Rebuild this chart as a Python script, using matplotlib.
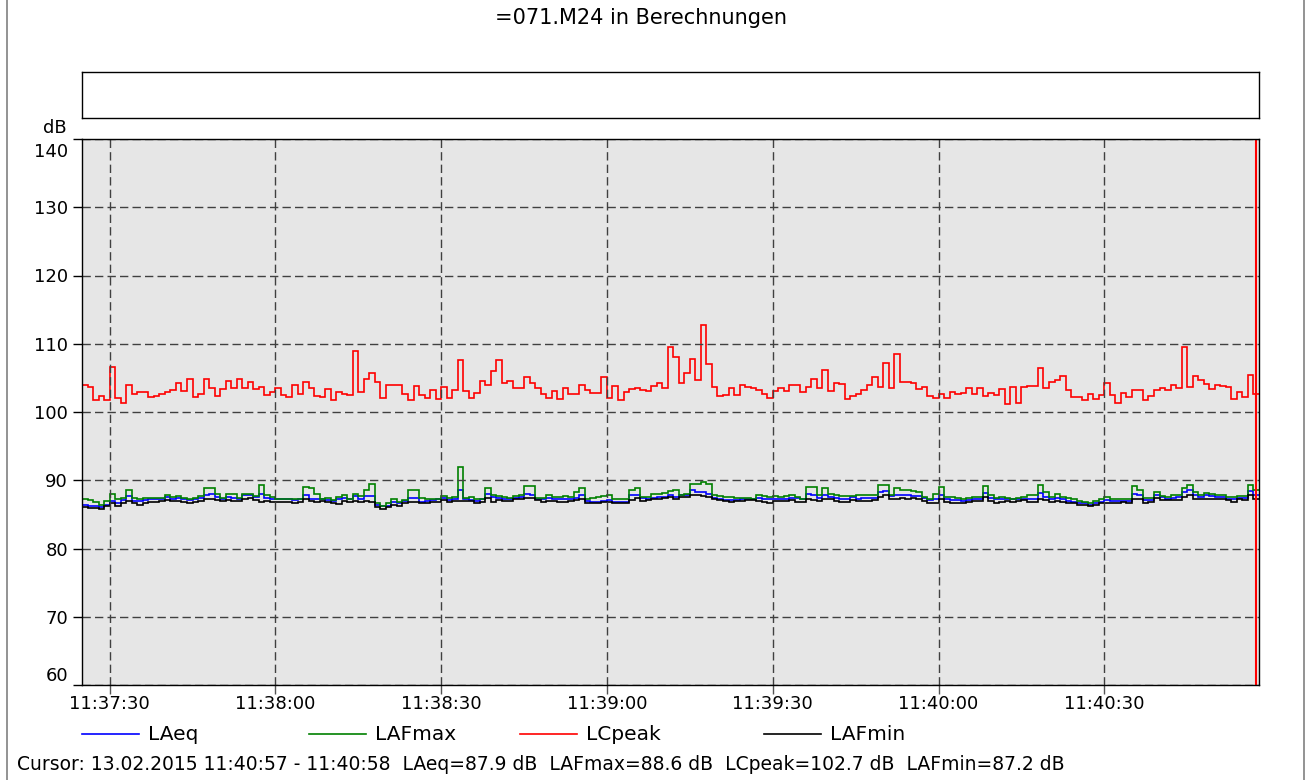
import numpy as np
import matplotlib
matplotlib.use('Agg')
import matplotlib.pyplot as plt
from matplotlib.lines import Line2D
from matplotlib.transforms import ScaledTranslation

plt.rcParams['font.family'] = ['DejaVu Sans']

title = '=071.M24 in Berechnungen'
date_str = '13.02.2015'
start_time = '11:37:25'          # first one-second interval
cursor_from = '11:40:57'
cursor_to = '11:40:58'
tick_labels = ['11:37:30', '11:38:00', '11:38:30', '11:39:00',
               '11:39:30', '11:40:00', '11:40:30']
y_ticks = [60, 70, 80, 90, 100, 110, 120, 130, 140]

# one value per second, 11:37:25 ... 11:40:57
LCpeak = [
    103.9, 103.6, 101.7, 102.3, 101.7, 106.6, 102.0, 101.3, 103.9, 102.7,
    103.0, 103.0, 102.2, 102.4, 102.7, 103.0, 103.2, 104.3, 103.1, 104.9,
    102.2, 102.7, 104.9, 103.5, 102.4, 103.4, 104.5, 103.5, 104.8, 103.5,
    104.4, 103.4, 103.7, 102.5, 102.9, 103.5, 102.5, 102.2, 104.0, 102.6,
    104.4, 103.5, 102.4,
    102.2, 103.4, 101.7, 102.9, 102.7, 102.5, 108.9, 103.0, 104.8, 105.7,
    104.4, 102.1, 103.9, 103.9, 104.0, 102.7, 101.7, 103.8, 102.5, 102.0,
    103.2, 101.9, 103.6, 102.0, 103.2, 107.6, 103.1, 102.0, 102.8, 104.5,
    103.9, 106.0, 107.6, 104.2, 104.6, 103.5, 103.5, 105.1, 104.3, 103.5,
    102.6, 102.0, 103.1,
    101.9, 103.5, 102.7, 102.7, 103.9, 103.2, 102.8, 102.8, 105.1, 102.0,
    103.8, 101.7, 102.9, 103.4, 103.5, 103.2, 103.1, 103.8, 104.2, 103.5,
    109.5, 108.1, 104.3, 105.7, 107.7, 104.7, 112.8, 107.1, 103.7, 102.4,
    102.5, 103.5, 102.5, 103.9, 103.7, 103.5, 103.2, 102.7, 102.1, 103.1,
    103.5, 103.1, 104.0,
    104.0, 103.0, 103.7, 104.9, 103.5, 106.2, 103.1, 104.2, 104.1, 101.9,
    102.3, 102.6, 103.2, 103.9, 105.2, 103.6, 107.2, 103.5, 108.5, 104.4,
    104.4, 104.3, 103.4, 103.6, 102.4, 102.1, 102.7, 102.1, 102.9, 102.6,
    102.8, 103.5, 102.6, 103.5, 102.3, 102.8, 102.5, 103.3, 101.1, 103.6,
    101.3, 103.6,
    103.8, 103.8, 106.5, 103.5, 104.4, 104.7, 105.3, 103.2, 102.2, 102.2,
    101.7, 102.7, 101.9, 102.5, 104.3, 102.5, 101.3, 102.8, 102.2, 103.2,
    103.2, 101.7, 102.4, 103.2, 103.5, 103.2, 104.0, 103.5, 109.5, 103.7,
    105.3, 104.7, 104.1, 103.4, 103.9, 103.8, 103.6, 101.9, 103.0, 102.2,
    105.4, 102.7,
]

LAFmax = [
    87.2, 87.1, 86.8, 86.4, 86.9, 88.0, 87.2, 87.4, 88.6, 87.4,
    87.3, 87.4, 87.4, 87.4, 87.4, 87.8, 87.5, 87.7, 87.4, 87.2,
    87.4, 87.7, 88.8, 88.8, 88.0, 87.4, 88.0, 88.0, 87.4, 88.0,
    88.0, 87.7, 89.3, 87.9, 87.6, 87.3, 87.3, 87.3, 87.3, 87.3,
    89.0, 88.9, 88.0,
    87.3, 87.4, 87.1, 87.6, 87.8, 87.3, 88.0, 87.7, 88.6, 89.4,
    86.6, 86.3, 86.6, 87.2, 86.8, 87.1, 88.6, 88.6, 87.4, 87.3,
    87.3, 87.3, 87.7, 87.4, 87.6, 91.9, 87.4, 87.6, 87.2, 87.3,
    88.8, 87.9, 87.7, 87.6, 87.4, 87.7, 87.9, 89.2, 89.2, 87.4,
    87.4, 87.8, 87.6,
    87.6, 87.7, 87.6, 88.3, 88.9, 87.3, 87.4, 87.6, 87.7, 87.8,
    87.3, 87.2, 87.2, 88.6, 88.8, 87.6, 87.6, 88.0, 88.0, 88.2,
    88.4, 88.6, 87.9, 88.0, 89.5, 89.5, 89.8, 89.4, 87.8, 87.7,
    87.6, 87.5, 87.4, 87.4, 87.4, 87.3, 87.9, 87.7, 87.6, 87.7,
    87.6, 87.7, 87.8,
    87.6, 87.3, 89.0, 89.0, 87.8, 88.8, 88.0, 87.9, 87.7, 87.7,
    87.7, 87.8, 87.8, 87.8, 87.8, 89.3, 89.3, 87.8, 88.9, 88.6,
    88.5, 88.4, 88.3, 87.6, 87.3, 88.0, 89.0, 87.5, 87.6, 87.4,
    87.3, 87.4, 87.6, 87.5, 89.2, 87.8, 87.4, 87.6, 87.4, 87.3,
    87.4, 87.6,
    87.8, 87.8, 89.3, 88.3, 87.6, 88.0, 87.6, 87.4, 87.2, 87.0,
    86.8, 86.7, 86.9, 87.3, 87.6, 87.3, 87.3, 87.3, 87.2, 89.2,
    88.6, 87.4, 87.4, 88.3, 87.7, 87.6, 87.8, 87.8, 88.8, 89.3,
    88.3, 87.8, 88.2, 88.0, 87.9, 87.8, 87.6, 87.6, 87.7, 87.7,
    89.3, 88.6,
]

LAeq = [
    86.4, 86.3, 86.3, 86.1, 86.4, 86.9, 86.7, 87.1, 87.7, 86.9,
    86.9, 87.1, 87.2, 87.2, 87.3, 87.6, 87.3, 87.4, 87.2, 87.1,
    87.2, 87.4, 87.8, 88.0, 87.6, 87.3, 87.6, 87.4, 87.3, 87.8,
    87.8, 87.6, 88.0, 87.4, 87.3, 87.2, 87.2, 87.2, 87.1, 87.2,
    87.9, 87.3, 87.2,
    87.2, 87.1, 86.9, 87.2, 87.4, 87.2, 87.7, 87.3, 87.7, 87.7,
    86.4, 86.2, 86.3, 86.8, 86.7, 86.9, 87.4, 87.4, 86.8, 86.9,
    87.1, 87.2, 87.4, 87.1, 87.2, 88.6, 87.3, 87.1, 86.9, 87.2,
    88.0, 87.6, 87.4, 87.3, 87.3, 87.4, 87.6, 88.0, 87.9, 87.3,
    87.2, 87.4, 87.2,
    87.3, 87.2, 87.3, 87.4, 87.9, 86.9, 86.8, 86.8, 87.0, 87.1,
    86.8, 86.8, 86.8, 87.8, 87.8, 87.4, 87.3, 87.4, 87.6, 87.6,
    87.9, 87.6, 87.8, 87.9, 88.5, 88.3, 88.3, 88.0, 87.4, 87.3,
    87.1, 87.1, 87.1, 87.2, 87.3, 87.2, 87.4, 87.3, 87.2, 87.3,
    87.3, 87.2, 87.4,
    87.4, 87.2, 88.0, 87.9, 87.4, 87.8, 87.6, 87.4, 87.3, 87.3,
    87.5, 87.3, 87.4, 87.4, 87.4, 88.3, 88.4, 87.7, 87.8, 87.8,
    87.8, 87.7, 87.7, 87.4, 87.1, 87.3, 87.9, 87.3, 87.1, 87.1,
    87.0, 87.1, 87.2, 87.3, 88.2, 87.4, 87.2, 87.3, 87.3, 87.3,
    87.3, 87.3,
    87.3, 87.3, 88.1, 87.6, 87.2, 87.4, 87.2, 86.9, 86.8, 86.7,
    86.6, 86.4, 86.7, 86.8, 87.1, 87.0, 86.9, 86.9, 86.9, 88.0,
    87.8, 87.1, 87.1, 87.9, 87.5, 87.3, 87.4, 87.5, 88.3, 88.6,
    87.9, 87.6, 87.8, 87.7, 87.6, 87.5, 87.3, 87.2, 87.4, 87.4,
    88.4, 87.9,
]

LAFmin = [
    86.1, 86.0, 86.0, 85.8, 86.3, 86.6, 86.3, 86.7, 86.9, 86.7,
    86.4, 86.7, 86.8, 86.8, 86.9, 87.1, 86.9, 86.9, 86.8, 86.7,
    86.8, 86.9, 87.3, 87.3, 87.1, 86.9, 87.1, 86.9, 86.9, 87.3,
    87.4, 87.1, 86.8, 86.9, 86.8, 86.8, 86.8, 86.8, 86.7, 86.8,
    87.2, 86.9, 86.8,
    86.9, 86.8, 86.6, 86.5, 86.9, 86.8, 86.9, 86.8, 86.9, 86.8,
    86.1, 85.8, 86.1, 86.4, 86.3, 86.7, 86.8, 86.8, 86.6, 86.7,
    86.8, 86.8, 87.1, 86.8, 87.0, 86.9, 86.9, 86.9, 86.7, 86.8,
    87.4, 86.8, 87.1, 86.9, 86.9, 87.2, 87.2, 87.4, 87.4, 87.1,
    86.8, 86.9, 87.0,
    86.8, 86.8, 86.9, 87.1, 87.3, 86.7, 86.6, 86.6, 86.8, 86.8,
    86.6, 86.6, 86.7, 87.1, 87.4, 86.9, 87.1, 87.2, 87.3, 87.4,
    87.6, 87.3, 87.5, 87.6, 87.9, 87.8, 87.7, 87.6, 87.3, 87.1,
    86.9, 86.8, 86.9, 86.9, 87.1, 87.1, 86.9, 86.8, 86.7, 86.9,
    86.9, 87.0, 87.1,
    86.8, 86.8, 87.2, 87.1, 86.9, 87.2, 87.2, 86.9, 86.8, 86.8,
    87.1, 86.9, 86.9, 86.9, 87.1, 87.6, 87.8, 87.3, 87.3, 87.4,
    87.3, 87.4, 87.3, 86.9, 86.6, 86.6, 87.3, 86.8, 86.7, 86.7,
    86.7, 86.8, 86.9, 86.9, 87.6, 86.9, 86.6, 86.8, 86.9, 86.8,
    87.0, 87.1,
    86.8, 86.8, 87.2, 87.1, 86.8, 86.9, 86.8, 86.7, 86.6, 86.4,
    86.4, 86.2, 86.4, 86.6, 86.7, 86.6, 86.7, 86.8, 86.7, 87.3,
    87.3, 86.7, 86.8, 87.4, 87.1, 87.1, 87.1, 87.1, 87.6, 87.8,
    87.3, 87.2, 87.3, 87.3, 87.2, 87.2, 87.1, 86.8, 87.2, 87.1,
    87.8, 87.2,
]

series = [('LAeq', LAeq, '#0000ff'),
          ('LAFmax', LAFmax, '#008000'),
          ('LCpeak', LCpeak, '#ff0000'),
          ('LAFmin', LAFmin, '#000000')]


def secs(hms):
    h, m, s = [int(v) for v in hms.split(':')]
    return h * 3600 + m * 60 + s


t0 = secs(start_time)
n = len(LAeq)
edges = np.arange(n + 1)
tick_pos = [secs(lbl) - t0 for lbl in tick_labels]

W, H = 1311, 780
fig = plt.figure(figsize=(W / 100, H / 100), dpi=100)

# window edges left and right
for xe in (7, W - 7):
    fig.add_artist(Line2D([xe / W] * 2, [0, 1], color='#808080', lw=1.2,
                          transform=fig.transFigure))

fig.text(641 / W, 1 - 18 / H, title, ha='center', va='center', fontsize=15)

# empty info box above the plot
box = fig.add_axes([82 / W, 1 - 118 / H, 1177 / W, 46 / H])
box.set_xticks([])
box.set_yticks([])
for sp in box.spines.values():
    sp.set_linewidth(1)

ax = fig.add_axes([82 / W, 1 - 685 / H, 1177 / W, 546 / H])
ax.set_facecolor('#e6e6e6')
for name, vals, col in series:
    ax.stairs(vals, edges, baseline=None, color=col, lw=1.2)

# cursor at the last interval
cur = secs(cursor_from) - t0 + 0.5
ax.axvline(cur, color='#ff0000', lw=1.5)

ax.set_xlim(0, n)
ax.set_ylim(y_ticks[0], y_ticks[-1])
ax.set_yticks(y_ticks)
ax.set_xticks(tick_pos)
ax.set_xticklabels(tick_labels)
ax.grid(True, color='#404040', linestyle=(0, (6, 3)), lw=1)
ax.tick_params(axis='y', direction='out', length=6.5, width=1,
               color='black', labelsize=13, pad=3.6)
ax.tick_params(axis='x', direction='out', length=6.5, width=1,
               color='#555555', labelsize=13, pad=1)
for sp in ax.spines.values():
    sp.set_linewidth(1)
    sp.set_color('black')

# end labels pulled inside the axis range
yt = ax.yaxis.get_major_ticks()
top_lab = yt[-1].label1
top_lab.set_verticalalignment('top')
top_lab.set_transform(top_lab.get_transform()
                      + ScaledTranslation(0, -0.04, fig.dpi_scale_trans))
yt[0].label1.set_verticalalignment('bottom')

fig.text(67 / W, 1 - 128 / H, 'dB', ha='right', va='center', fontsize=13)

# legend row
leg_x = [82, 309, 520, 764]
for (name, vals, col), x in zip(series, leg_x):
    fig.add_artist(Line2D([x / W, (x + 57) / W], [1 - 734 / H] * 2,
                          color=col, lw=1.2, transform=fig.transFigure))
    fig.text((x + 66) / W, 1 - 735 / H, name, ha='left', va='center',
             fontsize=14.5)

last = {name: vals[-1] for name, vals, col in series}
cursor_txt = ('Cursor: %s %s - %s  LAeq=%.1f dB  LAFmax=%.1f dB  '
              'LCpeak=%.1f dB  LAFmin=%.1f dB' % (
                  date_str, cursor_from, cursor_to, last['LAeq'],
                  last['LAFmax'], last['LCpeak'], last['LAFmin']))
fig.text(17 / W, 1 - 764 / H, cursor_txt, ha='left', va='center',
         fontsize=13.5)

fig.savefig('out.png', dpi=100)
